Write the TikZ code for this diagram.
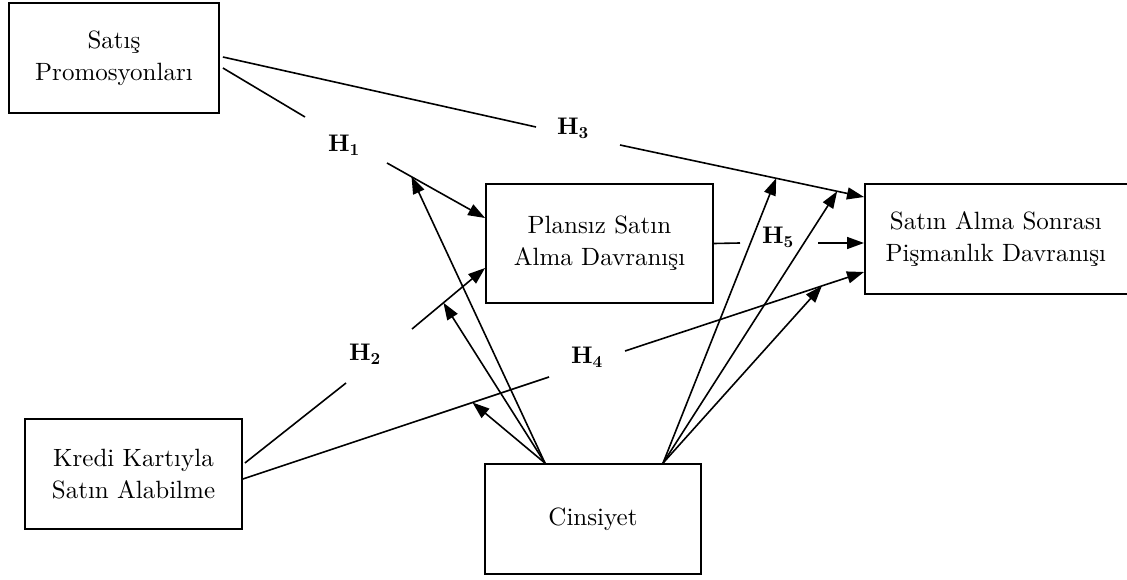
\documentclass[tikz,border=0pt]{standalone}
\usepackage{fontspec}
\setmainfont{lmroman10-regular.otf}[BoldFont=lmroman10-bold.otf, ItalicFont=lmroman10-italic.otf, BoldItalicFont=lmroman10-bolditalic.otf]
\usetikzlibrary{arrows.meta}
\begin{document}
\begin{tikzpicture}[x=1pt,y=-1pt, line width=1.6pt,
  box/.style={draw, line width=1.8pt, rectangle, align=center, inner sep=0pt,
    font=\fontsize{25}{32}\selectfont},
  hlab/.style={font=\fontsize{24}{28}\selectfont\bfseries, inner sep=0pt},
  arr/.style={-{Triangle[length=17pt,width=12pt]}}]
\useasboundingbox (0,0) rectangle (1127,580);
\clip (0,0) rectangle (1127,580);
% boxes
\node[box, minimum width=210pt, minimum height=110pt] (sp) at (114,58) {Satış\\Promosyonları};
\node[box, minimum width=227pt, minimum height=119pt] (pl) at (599.5,243.5) {Plansız Satın\\Alma Davranışı};
\node[box, minimum width=270pt, minimum height=110pt, anchor=west] (ps) at (864,239) {\hspace*{-8pt}Satın Alma Sonrası\\\hspace*{-8pt}Pişmanlık Davranışı};
\node[box, minimum width=217pt, minimum height=110pt] (kk) at (133.5,474) {Kredi Kartıyla\\Satın Alabilme};
\node[box, minimum width=216pt, minimum height=110pt] (cs) at (593,519) {Cinsiyet};
% labels
\node[hlab] (h1) at (344,145) {H\textsubscript{1}};
\node[hlab] (h2) at (365,354) {H\textsubscript{2}};
\node[hlab] (h3) at (573,128) {H\textsubscript{3}};
\node[hlab] (h4) at (587,357) {H\textsubscript{4}};
\node[hlab] (h5) at (778,237) {H\textsubscript{5}};
% gap coordinates
\coordinate (h1a) at (305,117);
\coordinate (h1b) at (387,163);
\coordinate (h2a) at (346,383);
\coordinate (h2b) at (412,329);
\coordinate (h3a) at (536,127);
\coordinate (h3b) at (620,145);
\coordinate (h4a) at (549,377);
\coordinate (h4b) at (625,351);
\coordinate (h5a) at (740,243);
\coordinate (h5b) at (818,243);
% H1
\draw ([xshift=3pt,yshift=-10pt]sp.east) -- (h1a);
\draw[arr] (h1b) -- coordinate[pos=0.25] (m1) ([yshift=25.5pt]pl.west);
% H3
\draw ([xshift=3pt,yshift=1pt]sp.east) -- (h3a);
\draw[arr] (h3b) -- coordinate[pos=0.64] (m3a) coordinate[pos=0.89] (m3b) ([yshift=42pt]ps.west);
% H2
\draw ([xshift=2pt,yshift=11pt]kk.east) -- (h2a);
\draw[arr] (h2b) -- coordinate[pos=0.43] (m2) ([yshift=-24.5pt]pl.west);
% H4
\draw ([yshift=-5pt]kk.east) -- coordinate[pos=0.75] (m4a) (h4a);
\draw[arr] (h4b) -- coordinate[pos=0.824] (m4b) ([yshift=-33pt]ps.west);
% H5
\draw (pl.east) -- (h5a);
\draw[arr] (h5b) -- ([yshift=-4pt]ps.west);
% moderator arrows from Cinsiyet
\coordinate (csl) at ([xshift=-48pt]cs.north);
\coordinate (csr) at ([xshift=70pt]cs.north);
\draw[arr] (csl) -- (m1);
\draw[arr] (csl) -- (m2);
\draw[arr] (csl) -- (m4a);
\draw[arr] (csr) -- (m3a);
\draw[arr] (csr) -- (m3b);
\draw[arr] (csr) -- (m4b);
\end{tikzpicture}
\end{document}
